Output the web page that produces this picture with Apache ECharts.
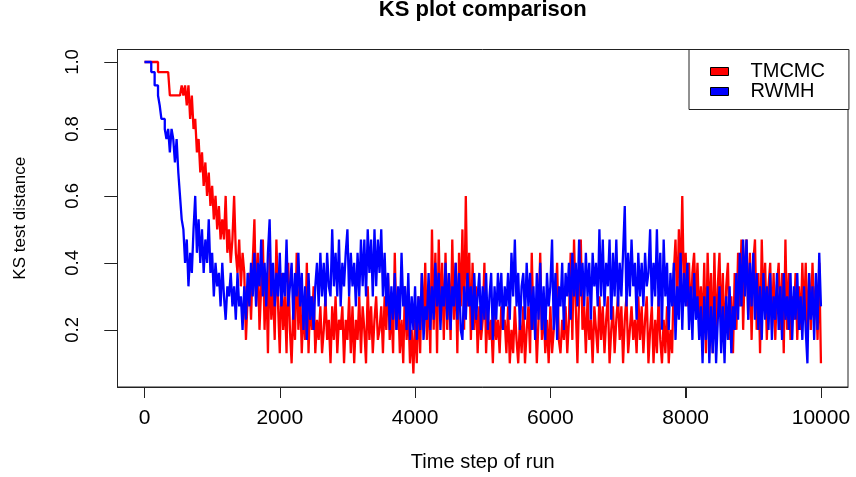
<!DOCTYPE html>
<html><head><meta charset="utf-8">
<script src="https://cdn.jsdelivr.net/npm/echarts@6/dist/echarts.min.js"></script>
<style>html,body{margin:0;padding:0;background:#fff}#c{width:856px;height:477px}</style>
</head><body><div id="c"></div>
<script>
const STEP = 25;
const seriesNames = ['TMCMC', 'RWMH'];
const seriesColors = ['#ff0000', '#0000ff'];
const xTicks = [0, 2000, 4000, 6000, 8000, 10000];
const yTicks = [0.2, 0.4, 0.6, 0.8, 1.0];

const tmcmc = [
1,1,1,1,1,1,1,1,.97,.97,
.97,.97,.97,.97,.97,.9,.9,.9,.9,.9,
.9,.9,.93,.9,.93,.87,.93,.83,.9,.8,
.83,.73,.77,.67,.73,.63,.7,.6,.67,.57,
.63,.53,.6,.5,.57,.47,.53,.47,.6,.43,
.5,.4,.47,.6,.43,.37,.47,.33,.43,.37,
.17,.3,.37,.23,.4,.53,.27,.43,.2,.33,
.47,.2,.37,.13,.43,.23,.33,.17,.47,.27,
.13,.37,.2,.3,.13,.4,.2,.1,.27,.17,
.43,.2,.33,.13,.27,.17,.4,.13,.3,.2,
.33,.13,.23,.17,.27,.13,.2,.3,.17,.23,
.1,.27,.17,.3,.13,.23,.2,.27,.1,.23,
.17,.3,.13,.27,.1,.23,.17,.3,.13,.27,
.2,.1,.33,.17,.27,.13,.23,.3,.17,.2,
.27,.13,.3,.2,.37,.17,.27,.13,.43,.2,
.3,.13,.23,.1,.33,.17,.27,.1,.2,.07,
.23,.1,.3,.13,.37,.2,.4,.17,.33,.13,
.5,.2,.43,.13,.47,.23,.4,.17,.43,.2,
.37,.17,.47,.23,.4,.13,.43,.27,.5,.2,
.6,.27,.43,.17,.4,.2,.33,.13,.27,.17,
.23,.4,.13,.27,.17,.23,.1,.27,.17,.23,
.13,.27,.2,.23,.13,.27,.1,.2,.13,.27,
.17,.1,.23,.13,.27,.1,.2,.27,.13,.43,
.2,.27,.1,.23,.43,.17,.27,.13,.23,.1,
.27,.13,.2,.27,.4,.17,.13,.23,.17,.27,
.13,.23,.43,.17,.47,.27,.1,.3,.47,.2,
.27,.13,.3,.17,.23,.1,.27,.2,.13,.3,
.17,.27,.13,.23,.3,.1,.2,.27,.13,.23,
.3,.17,.27,.1,.23,.3,.13,.2,.27,.17,
.23,.13,.3,.17,.27,.13,.23,.3,.1,.2,
.27,.1,.23,.13,.3,.17,.1,.23,.13,.27,
.1,.2,.13,.37,.47,.27,.5,.33,.6,.3,
.43,.27,.4,.23,.37,.43,.27,.4,.23,.33,
.2,.4,.13,.43,.23,.37,.13,.43,.17,.33,
.43,.2,.37,.13,.33,.4,.17,.3,.13,.37,
.2,.43,.27,.47,.2,.4,.47,.23,.43,.17,
.4,.47,.2,.37,.13,.47,.27,.4,.17,.33,
.4,.2,.37,.17,.33,.4,.2,.37,.13,.47,
.2,.37,.17,.3,.23,.37,.17,.33,.2,.4,
.23,.4,.17,.37,.2,.4,.23,.33,.17,.4,
.1
];

const rwmh = [
1,1,1,1,.97,.97,.93,.93,.9,.87,
.83,.83,.8,.77,.8,.73,.8,.77,.7,.77,
.67,.6,.53,.5,.4,.47,.33,.43,.37,.5,
.6,.43,.53,.4,.5,.37,.47,.4,.53,.37,
.43,.3,.4,.33,.37,.27,.4,.3,.23,.33,
.3,.37,.27,.33,.23,.37,.27,.3,.2,.33,
.23,.37,.27,.4,.3,.43,.27,.4,.33,.47,
.3,.4,.27,.43,.53,.3,.4,.27,.37,.3,
.43,.27,.37,.3,.47,.27,.33,.4,.23,.37,
.3,.43,.27,.37,.2,.33,.17,.37,.23,.3,
.2,.33,.4,.27,.43,.3,.4,.27,.43,.33,
.3,.5,.33,.43,.3,.47,.27,.4,.33,.43,
.5,.3,.43,.33,.4,.27,.43,.3,.47,.33,
.47,.3,.5,.37,.47,.3,.5,.33,.47,.37,
.5,.3,.43,.27,.37,.2,.33,.23,.37,.2,
.33,.23,.43,.27,.33,.2,.37,.17,.3,.2,
.33,.17,.3,.2,.37,.17,.27,.23,.37,.2,
.33,.23,.4,.27,.37,.2,.33,.27,.4,.23,
.37,.2,.33,.27,.4,.23,.37,.2,.17,.33,
.23,.37,.27,.33,.2,.37,.23,.3,.37,.2,
.33,.23,.37,.2,.3,.37,.17,.33,.23,.37,
.27,.37,.2,.33,.27,.37,.23,.43,.3,.47,
.27,.37,.2,.33,.37,.23,.4,.27,.37,.2,
.33,.17,.37,.23,.4,.2,.33,.17,.37,.27,
.33,.47,.2,.37,.17,.33,.27,.4,.2,.37,
.3,.4,.23,.43,.3,.4,.27,.47,.3,.4,
.27,.43,.3,.4,.23,.43,.33,.4,.27,.5,
.3,.47,.27,.4,.33,.47,.23,.43,.3,.47,
.27,.4,.3,.43,.57,.27,.43,.3,.47,.33,
.4,.23,.43,.3,.4,.27,.43,.33,.37,.5,
.27,.4,.3,.5,.27,.43,.2,.47,.3,.4,
.2,.37,.27,.4,.17,.33,.23,.43,.2,.37,
.27,.4,.2,.33,.17,.37,.23,.3,.17,.27,
.1,.3,.17,.33,.1,.27,.13,.3,.1,.23,
.33,.13,.27,.1,.3,.17,.33,.13,.27,.2,
.37,.23,.43,.27,.47,.3,.47,.23,.4,.27,
.43,.23,.37,.2,.33,.17,.37,.23,.33,.2,
.37,.17,.3,.23,.37,.2,.33,.17,.37,.23,
.3,.2,.37,.17,.33,.23,.37,.2,.3,.17,
.33,.2,.1,.37,.23,.33,.17,.37,.2,.43,
.27
];

// ---- layout ----
const FONT = 'Liberation Sans, Arial, Helvetica, sans-serif';
const box = { left: 117.5, top: 49.5, right: 848, bottom: 387 };
const xRange = [-399, 10400];
const yRange = [0.0293, 1.0373];
const toPairs = arr => arr.map((v, i) => [i * STEP, v]);
const axisColor = '#222';
const X_TICK_LEN = 11, Y_TICK_LEN = 13;

// tick marks drawn through the axis scales (api.coord), on their own layer
const tickSeries = (values, horizontal) => ({
  type: 'custom', silent: true, clip: false, z: 10, zlevel: 1,
  data: values.map(v => [v]),
  renderItem: (params, api) => {
    const v = api.value(0);
    if (horizontal) {
      const p = api.coord([v, yRange[0]]);
      const x = Math.round(p[0]) + 0.5;
      return { type: 'line', shape: { x1: x, y1: p[1], x2: x, y2: p[1] + X_TICK_LEN },
        style: { stroke: axisColor, lineWidth: 1 } };
    }
    const p = api.coord([xRange[0], v]);
    const y = Math.round(p[1]) + 0.5;
    return { type: 'line', shape: { x1: p[0] - Y_TICK_LEN, y1: y, x2: p[0], y2: y },
      style: { stroke: axisColor, lineWidth: 1 } };
  }
});

const chart = echarts.init(document.getElementById('c'), null, { renderer: 'canvas' });
chart.setOption({
  animation: false,
  backgroundColor: '#fff',
  textStyle: { fontFamily: FONT },
  title: {
    text: 'KS plot comparison',
    left: (box.left + box.right) / 2, top: -1, textAlign: 'center', padding: 0,
    textStyle: { fontFamily: FONT, fontWeight: 'bold', fontSize: 22, color: '#000' }
  },
  legend: {
    orient: 'vertical', left: 689, top: box.top,
    padding: [12, 24, 8, 21], itemGap: 0, itemWidth: 18, itemHeight: 8,
    backgroundColor: '#fff', borderColor: axisColor, borderWidth: 1,
    textStyle: { fontFamily: FONT, fontSize: 20, color: '#000', lineHeight: 20, padding: [0, 0, 0, 17] },
    data: seriesNames.map((n, i) => ({ name: n, icon: 'rect',
      itemStyle: { color: seriesColors[i], borderColor: '#000', borderWidth: 1 } }))
  },
  grid: {
    left: box.left, top: box.top, width: box.right - box.left, height: box.bottom - box.top,
    outerBoundsMode: 'none', show: true, borderColor: axisColor, borderWidth: 1, backgroundColor: 'transparent'
  },
  xAxis: {
    type: 'value', min: xRange[0], max: xRange[1],
    axisLine: { show: true, onZero: false, lineStyle: { color: axisColor, width: 1 } },
    axisTick: { show: true, length: X_TICK_LEN, customValues: xTicks, lineStyle: { color: axisColor, width: 1 } },
    axisLabel: { show: true, customValues: xTicks, fontFamily: FONT, fontSize: 21, color: '#000', margin: 21,
      formatter: v => String(v) },
    splitLine: { show: false },
    name: 'Time step of run', nameLocation: 'middle', nameGap: 65,
    nameTextStyle: { fontFamily: FONT, fontSize: 20, color: '#000' }
  },
  yAxis: {
    type: 'value', min: yRange[0], max: yRange[1],
    axisLine: { show: true, onZero: false, lineStyle: { color: axisColor, width: 1 } },
    axisTick: { show: true, length: Y_TICK_LEN, customValues: yTicks, lineStyle: { color: axisColor, width: 1 } },
    axisLabel: { show: true, customValues: yTicks, fontFamily: FONT, fontSize: 18.5, color: '#000', margin: 35, rotate: 90,
      formatter: v => v.toFixed(1) },
    splitLine: { show: false },
    name: 'KS test distance', nameLocation: 'middle', nameGap: 89, nameRotate: 90,
    nameTextStyle: { fontFamily: FONT, fontSize: 17, color: '#000' }
  },
  series: [
    { name: seriesNames[0], type: 'line', data: toPairs(tmcmc),
      step: 'end', symbol: 'none', silent: true,
      lineStyle: { color: seriesColors[0], width: 2.3 }, itemStyle: { color: seriesColors[0] } },
    { name: seriesNames[1], type: 'line', data: toPairs(rwmh),
      step: 'end', symbol: 'none', silent: true,
      lineStyle: { color: seriesColors[1], width: 2.3 }, itemStyle: { color: seriesColors[1] } },
    tickSeries(xTicks, true),
    tickSeries(yTicks, false)
  ]
});
</script>
</body></html>
